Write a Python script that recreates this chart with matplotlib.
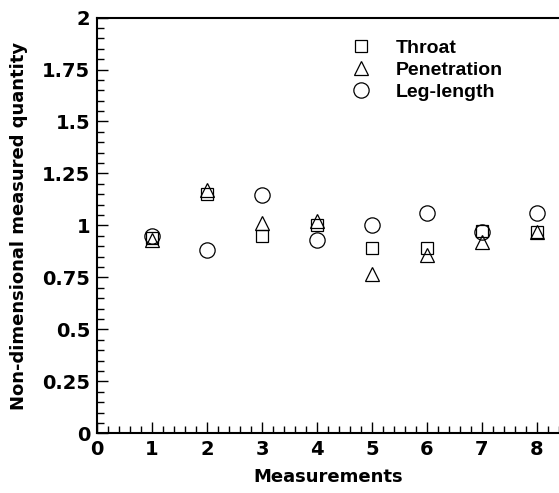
import matplotlib
matplotlib.use("Agg")
import matplotlib.pyplot as plt
from matplotlib.ticker import MultipleLocator

plt.rcParams["font.family"] = ["DejaVu Sans"]
plt.rcParams["font.weight"] = "bold"

measurements = [1, 2, 3, 4, 5, 6, 7, 8]
throat = [0.94, 1.15, 0.95, 1.00, 0.89, 0.89, 0.975, 0.97]
penetration = [0.93, 1.17, 1.01, 1.02, 0.765, 0.86, 0.92, 0.97]
leg_length = [0.95, 0.88, 1.145, 0.93, 1.00, 1.06, 0.97, 1.06]

fig = plt.figure(figsize=(5.59, 4.93), dpi=100)
ax = fig.add_axes([0.1735, 0.1207, 0.8265, 0.8438])

ax.plot(measurements, throat, "s", ms=8, mfc="none", mec="black", mew=0.9,
        label="Throat")
ax.plot(measurements, penetration, "^", ms=10, mfc="none", mec="black", mew=0.9,
        label="Penetration")
ax.plot(measurements, leg_length, "o", ms=11, mfc="none", mec="black", mew=0.9,
        label="Leg-length")

ax.set_xlim(0, 8.4)
ax.set_ylim(0, 2)
ax.xaxis.set_major_locator(MultipleLocator(1))
ax.xaxis.set_minor_locator(MultipleLocator(0.2))
ax.yaxis.set_minor_locator(MultipleLocator(0.05))
ax.set_yticks([0, 0.25, 0.5, 0.75, 1, 1.25, 1.5, 1.75, 2])
ax.set_yticklabels(["0", "0.25", "0.5", "0.75", "1", "1.25", "1.5", "1.75", "2"])

ax.tick_params(which="major", direction="in", length=8, width=1, labelsize=14,
               pad=5)
ax.tick_params(which="minor", direction="in", length=5, width=1)
for lab in ax.get_xticklabels() + ax.get_yticklabels():
    lab.set_fontweight("bold")

ax.spines["right"].set_visible(False)
for s in ["left", "bottom", "top"]:
    ax.spines[s].set_linewidth(1.5)

ax.set_xlabel("Measurements", fontsize=13, fontweight="bold", labelpad=6)
ax.set_ylabel("Non-dimensional measured quantity", fontsize=13,
              fontweight="bold", labelpad=10)

leg = ax.legend(loc="upper left", bbox_to_anchor=(0.5, 0.99), frameon=False,
                handletextpad=1.0, labelspacing=0.22, handlelength=1.6,
                prop={"family": "Liberation Sans", "weight": "bold", "size": 14})

fig.savefig("out.png", dpi=100)
